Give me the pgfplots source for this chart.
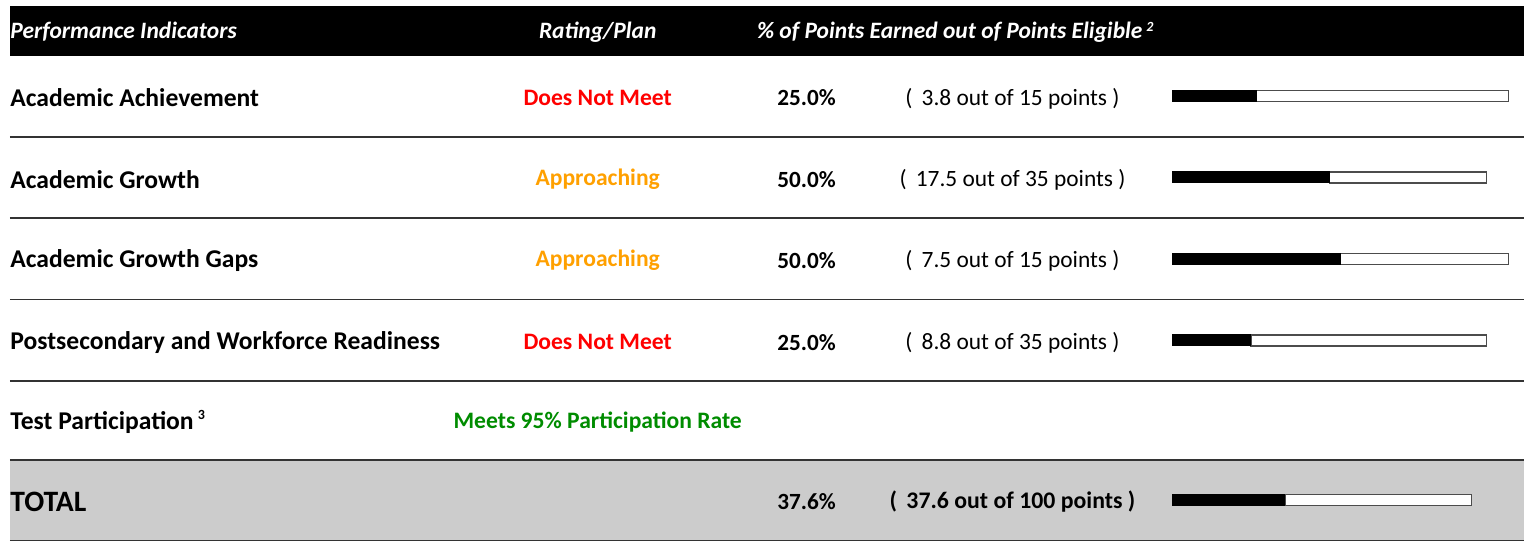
\documentclass[border=0pt]{standalone}
\usepackage{pgfplots}
\pgfplotsset{compat=1.18}
\usepackage{pgfplotstable}
\usepackage{fontspec}
\setmainfont{Carlito}
\definecolor{rRed}{RGB}{255,0,0}
\definecolor{rOrange}{RGB}{255,160,0}
\definecolor{rGreen}{RGB}{0,140,0}
\definecolor{rGray}{RGB}{204,204,204}

% y = row centre (pixels from top), pct = % of points earned, len = bar length (px)
\pgfplotstableread{
y     pct   len
96    25.0  336
177.5 50.0  314
259   50.0  336
340.5 25.0  314
500   37.6  299
}\bars

\newcommand\rowf{\fontsize{12.8}{15}\selectfont\bfseries}
\newcommand\ratf{\fontsize{11.8}{14}\selectfont\bfseries}
\newcommand\pctf{\fontsize{11.6}{14}\selectfont\bfseries}
\newcommand\regf{\fontsize{11.7}{14}\selectfont}
\newcommand\headf{\fontsize{11.75}{14}\selectfont\bfseries\itshape}

\begin{document}
\begin{tikzpicture}
\pgfplotsset{frame/.style={scale only axis, width=762.5pt, height=271pt,
  ymin=0, ymax=542, y dir=reverse, hide axis, clip=false}}
\begin{axis}[frame, xmin=0, xmax=1525]
  \path (axis cs:0,0) rectangle (axis cs:1525,542);
  % header
  \fill[black] (axis cs:10,6) rectangle (axis cs:1525,56.5);
  \node[anchor=west, inner sep=0pt, white, font=\headf] at (axis cs:10,32) {Performance Indicators};
  \node[white, font=\headf] at (axis cs:598,32) {Rating/Plan};
  \node[anchor=west, inner sep=0pt, white, font=\headf] at (axis cs:757,32) {\% of Points Earned out of Points Eligible\,\raisebox{0.6ex}{\fontsize{7}{8}\selectfont 2}};
  % total band
  \fill[rGray] (axis cs:10,460) rectangle (axis cs:1525,541);
  % separators
  \pgfplotsinvokeforeach{137,218,299.5,381,460,541}{
    \draw[line width=0.75pt, black!80] (axis cs:10,#1) -- (axis cs:1525,#1);}
  % row labels
  \node[anchor=west, inner sep=0pt, font=\rowf] at (axis cs:10,97.5) {Academic Achievement};
  \node[anchor=west, inner sep=0pt, font=\rowf] at (axis cs:10,179.5) {Academic Growth};
  \node[anchor=west, inner sep=0pt, font=\rowf] at (axis cs:10,260.5) {Academic Growth Gaps};
  \node[anchor=west, inner sep=0pt, font=\rowf] at (axis cs:10,342.5) {Postsecondary and Workforce Readiness};
  \node[anchor=west, inner sep=0pt, font=\rowf] at (axis cs:10,422) {Test Participation\,\raisebox{0.75ex}{\fontsize{7}{8}\selectfont 3}};
  \node[anchor=west, inner sep=0pt, font=\fontsize{14.8}{17}\selectfont\bfseries] at (axis cs:10,502) {TOTAL};
  % ratings
  \node[rRed, font=\ratf] at (axis cs:598,97.5) {Does Not Meet};
  \node[rOrange, font=\ratf] at (axis cs:598,179.5) {Approaching};
  \node[rOrange, font=\ratf] at (axis cs:598,260.5) {Approaching};
  \node[rRed, font=\ratf] at (axis cs:598,342.5) {Does Not Meet};
  \node[rGreen, font=\ratf] at (axis cs:598,422) {Meets 95\% Participation Rate};
  % percents
  \node[font=\pctf] at (axis cs:807,98) {25.0\%};
  \node[font=\pctf] at (axis cs:807,179.5) {50.0\%};
  \node[font=\pctf] at (axis cs:807,261) {50.0\%};
  \node[font=\pctf] at (axis cs:807,342.5) {25.0\%};
  \node[font=\pctf] at (axis cs:807,502) {37.6\%};
  % points
  \node[font=\regf] at (axis cs:1013,98.5) {( \,3.8 out of 15 points )};
  \node[font=\regf] at (axis cs:1013,179.5) {( \,17.5 out of 35 points )};
  \node[font=\regf] at (axis cs:1013,261) {( \,7.5 out of 15 points )};
  \node[font=\regf] at (axis cs:1013,342.5) {( \,8.8 out of 35 points )};
  \node[font=\fontsize{11.9}{14}\selectfont\bfseries] at (axis cs:1013,502) {( \,37.6 out of 100 points )};
\end{axis}
\begin{axis}[frame, xmin=-1173, xmax=352, xbar stacked, bar width=11]
  \addplot[fill=black, draw=black, line width=0.5pt]
    table[y=y, x expr=\thisrow{pct}/100*\thisrow{len}] {\bars};
  \addplot[fill=white, draw=black!70, line width=0.7pt]
    table[y=y, x expr=(1-\thisrow{pct}/100)*\thisrow{len}] {\bars};
\end{axis}
\end{tikzpicture}
\end{document}
